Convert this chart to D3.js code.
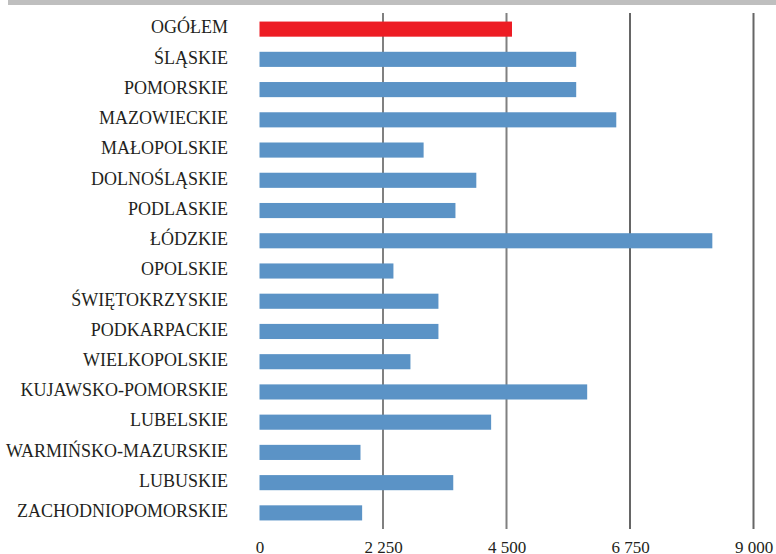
<!DOCTYPE html>
<html>
<head>
<meta charset="utf-8">
<script src="https://cdn.jsdelivr.net/npm/d3@7"></script>
<style>
  body { margin: 0; background: #ffffff; }
  svg { display: block; }
</style>
</head>
<body>
<div id="chart"></div>
<script>
////////DATA////////
const regions = [
  'OGÓŁEM', 'ŚLĄSKIE', 'POMORSKIE', 'MAZOWIECKIE', 'MAŁOPOLSKIE',
  'DOLNOŚLĄSKIE', 'PODLASKIE', 'ŁÓDZKIE', 'OPOLSKIE', 'ŚWIĘTOKRZYSKIE',
  'PODKARPACKIE', 'WIELKOPOLSKIE', 'KUJAWSKO-POMORSKIE', 'LUBELSKIE',
  'WARMIŃSKO-MAZURSKIE', 'LUBUSKIE', 'ZACHODNIOPOMORSKIE'
]
const values = [
  4600, 5770, 5770, 6500, 2990,
  3950, 3570, 8250, 2440, 3260,
  3260, 2750, 5970, 4220,
  1840, 3530, 1870
]
const tickValues = [0, 2250, 4500, 6750, 9000]
const tickLabels = ['0', '2 250', '4 500', '6 750', '9 000']
const highlight = 'OGÓŁEM'

////////SIZES////////
const width = 776
const height = 554
const xLeft = 259.5
const xRight = 753.5
const yTop = 14
const yBottom = 528

const data = regions.map((r, i) => ({ name: r, value: values[i] }))

const svg = d3.select('#chart').append('svg')
  .attr('width', width)
  .attr('height', height)

const x = d3.scaleLinear().domain([0, 9000]).range([xLeft, xRight])
const y = d3.scaleBand().domain(regions).range([yTop, yBottom])
  .paddingInner(0.5).paddingOuter(0.25)

// gray rule across the top
svg.append('line')
  .attr('x1', 8).attr('x2', width)
  .attr('y1', 2.5).attr('y2', 2.5)
  .attr('stroke', '#bfbfbf')
  .attr('stroke-width', 5)

// vertical gridlines (none at zero)
svg.append('g').attr('class', 'grid')
  .selectAll('line')
  .data(tickValues.filter(d => d > 0))
  .join('line')
  .attr('x1', d => x(d)).attr('x2', d => x(d))
  .attr('y1', 13).attr('y2', 529)
  .attr('stroke', d => d > 4500 ? '#666666' : '#808080')
  .attr('stroke-width', 2)

// bars
svg.append('g').attr('class', 'bars')
  .selectAll('rect')
  .data(data)
  .join('rect')
  .attr('x', x(0))
  .attr('y', d => y(d.name))
  .attr('width', d => x(d.value) - x(0))
  .attr('height', y.bandwidth())
  .attr('fill', d => d.name == highlight ? '#ed1c24' : '#5b93c6')

// category labels
svg.append('g').attr('class', 'labels')
  .selectAll('text')
  .data(data)
  .join('text')
  .attr('x', 228)
  .attr('y', d => y(d.name) + y.bandwidth() / 2 + 4.3)
  .attr('text-anchor', 'end')
  .style('font-family', '"Liberation Serif", "DejaVu Serif", serif')
  .style('font-size', '18px')
  .style('fill', '#231f20')
  .text(d => d.name)

// x axis, labels only
const xAxis = d3.axisBottom(x)
  .tickValues(tickValues)
  .tickFormat((d, i) => tickLabels[i])
  .tickSize(0)
  .tickPadding(0)

const axisG = svg.append('g')
  .attr('transform', 'translate(0,' + 541 + ')')
  .call(xAxis)
axisG.select('.domain').remove()
axisG.selectAll('text')
  .attr('dy', null)
  .attr('y', 12)
  .style('font-family', '"Liberation Serif", "DejaVu Serif", serif')
  .style('font-size', '17px')
  .style('fill', '#231f20')
</script>
</body>
</html>
